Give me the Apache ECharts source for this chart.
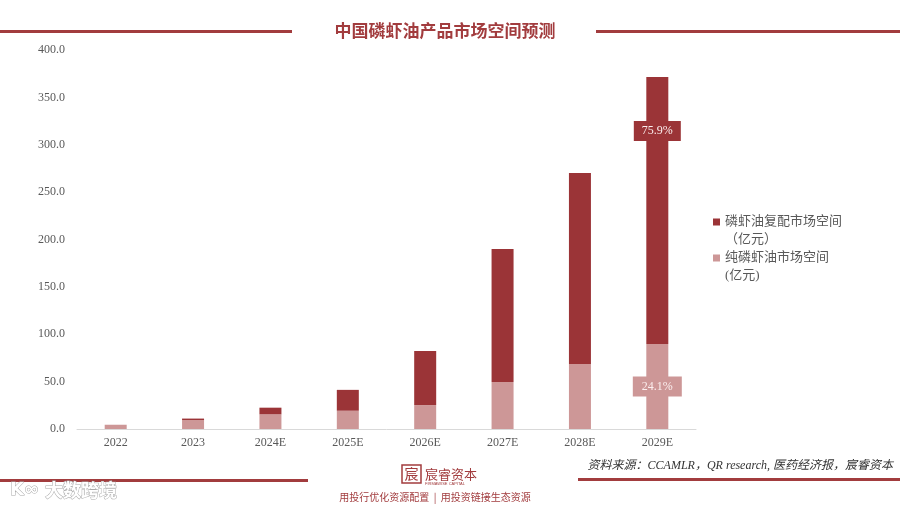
<!DOCTYPE html>
<html><head><meta charset="utf-8">
<script src="https://cdn.jsdelivr.net/npm/echarts@6/dist/echarts.min.js"></script>
<style>html,body{margin:0;padding:0;background:#fff}#c{width:900px;height:505px}</style>
</head><body><div id="c"></div>
<script>
const categories = ['2022','2023','2024E','2025E','2026E','2027E','2028E','2029E'];
const pureValues = [4.5, 9.5, 15.5, 19.3, 25.3, 49.6, 68.6, 89.7];
const compositeValues = [0, 1.5, 7.0, 22.0, 57.0, 140.5, 201.5, 281.8];
const compositeShare = [null, null, null, null, null, null, null, '75.9%'];
const pureShare = [null, null, null, null, null, null, null, '24.1%'];
const compositeName = '磷虾油复配市场空间';
const pureName = '纯磷虾油市场空间';
const legendText = {'磷虾油复配市场空间': '磷虾油复配市场空间\n（亿元）', '纯磷虾油市场空间': '纯磷虾油市场空间\n(亿元)'};

const SERIF = '"Liberation Serif","Noto Sans CJK SC",serif';
const DARK = '#9b3437';
const LIGHT = '#cd9797';
const RED = '#a23c3e';

const chart = echarts.init(document.getElementById('c'));
const iconPath = 'path://M0,0L0.01,0L0.01,0.01Z M0,5.5L7,5.5L7,12.5L0,12.5Z M0,35.99L0.01,35.99L0.01,36Z';

chart.setOption({
  animation: false,
  backgroundColor: '#fff',
  grid: {left: 77, right: 204, top: 50, bottom: 76},
  legend: {
    orient: 'vertical', left: 713, top: 213, padding: 0,
    itemWidth: 7, itemHeight: 36, itemGap: 0,
    data: [{name: compositeName, icon: iconPath}, {name: pureName, icon: iconPath}],
    formatter: n => legendText[n],
    textStyle: {fontFamily: SERIF, fontSize: 13, color: '#595959', lineHeight: 18}
  },
  xAxis: {
    type: 'category', data: categories,
    axisLine: {lineStyle: {color: '#d9d9d9'}},
    axisTick: {show: false},
    axisLabel: {fontFamily: SERIF, fontSize: 12, color: '#595959', margin: 8}
  },
  yAxis: {
    type: 'value', min: 0, max: 400, interval: 50,
    splitLine: {show: false}, axisLine: {show: false}, axisTick: {show: false},
    axisLabel: {fontFamily: SERIF, fontSize: 12, color: '#595959', margin: 12, formatter: v => v.toFixed(1)}
  },
  series: [
    {
      name: pureName, type: 'bar', stack: 's', barWidth: 22,
      itemStyle: {color: LIGHT},
      data: pureValues.map((v, i) => pureShare[i] ? {
        value: v,
        label: {show: true, position: 'inside', formatter: pureShare[i], backgroundColor: LIGHT,
          color: '#fbeeee', fontFamily: SERIF, fontSize: 12, padding: [4, 9]}
      } : v)
    },
    {
      name: compositeName, type: 'bar', stack: 's', barWidth: 22,
      itemStyle: {color: DARK},
      data: compositeValues.map((v, i) => compositeShare[i] ? {
        value: v,
        label: {show: true, position: ['50%', 44], align: 'center', verticalAlign: 'top',
          formatter: compositeShare[i], backgroundColor: DARK,
          color: '#fbeeee', fontFamily: SERIF, fontSize: 12, padding: [4, 8]}
      } : v)
    }
  ],
  graphic: [
    {type: 'rect', shape: {x: 0, y: 30, width: 292, height: 3}, style: {fill: RED}},
    {type: 'rect', shape: {x: 596, y: 30, width: 304, height: 3}, style: {fill: RED}},
    {type: 'text', x: 445, y: 31, style: {text: '中国磷虾油产品市场空间预测', fill: RED,
      font: 'bold 17px "Noto Sans CJK SC", serif', textAlign: 'center', textVerticalAlign: 'middle'}},
    {type: 'rect', shape: {x: 0, y: 479, width: 308, height: 3}, style: {fill: RED}},
    {type: 'rect', shape: {x: 578, y: 478, width: 322, height: 3}, style: {fill: RED}},
    {type: 'text', x: 893, y: 466, style: {text: '资料来源：CCAMLR，QR research, 医药经济报，宸睿资本', fill: '#333',
      font: 'italic 12px "Liberation Serif","Noto Sans CJK SC", serif', textAlign: 'right', textVerticalAlign: 'middle'}},
    {type: 'rect', shape: {x: 402, y: 465, width: 19, height: 18}, style: {fill: 'none', stroke: RED, lineWidth: 1.5}},
    {type: 'text', x: 411.5, y: 474, style: {text: '宸', fill: RED, font: '14px "Noto Sans CJK SC"', textAlign: 'center', textVerticalAlign: 'middle'}},
    {type: 'text', x: 425, y: 474, style: {text: '宸睿资本', fill: RED, font: '13px "Noto Sans CJK SC"', textAlign: 'left', textVerticalAlign: 'middle'}},
    {type: 'text', x: 425, y: 484, style: {text: 'FIRMAWISE CAPITAL', fill: RED, font: '4px "Liberation Sans"', textAlign: 'left', textVerticalAlign: 'middle'}},
    {type: 'text', x: 435, y: 497, style: {text: '用投行优化资源配置  |  用投资链接生态资源', fill: RED,
      font: '10px "Noto Sans CJK SC"', textAlign: 'center', textVerticalAlign: 'middle'}},
    {type: 'text', x: 45, y: 490, style: {text: '大数跨境', fill: '#ffffff', stroke: '#aaaaaa', lineWidth: 1,
      font: 'bold 18px "Noto Sans CJK SC"', textAlign: 'left', textVerticalAlign: 'middle'}},
    {type: 'text', x: 10, y: 490, style: {text: 'K∞', fill: '#ffffff', stroke: '#aaaaaa', lineWidth: 1,
      font: 'bold 18px "DejaVu Sans"', textAlign: 'left', textVerticalAlign: 'middle'}}
  ]
});
</script></body></html>
